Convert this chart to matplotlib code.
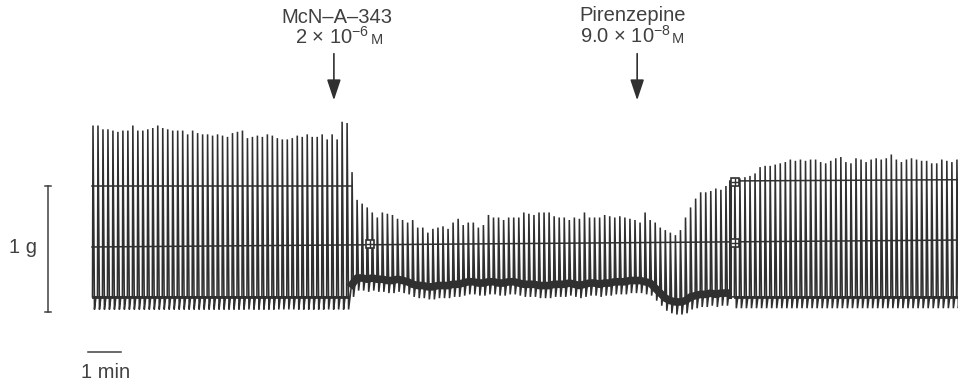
import numpy as np
import matplotlib
matplotlib.use("Agg")
import matplotlib.pyplot as plt

# ---------------- data (tension in g, time in min) ----------------
left_t = (0.03, 7.73)          # first / last contraction of control period
left_peak = [1.48, 1.48, 1.45, 1.45, 1.44, 1.43, 1.44, 1.44, 1.48, 1.44,
             1.44, 1.45, 1.46, 1.48, 1.46, 1.45, 1.44, 1.44, 1.44, 1.41,
             1.44, 1.42, 1.41, 1.41, 1.40, 1.41, 1.40, 1.39, 1.42, 1.43,
             1.44, 1.38, 1.39, 1.40, 1.39, 1.41, 1.40, 1.38, 1.37, 1.37,
             1.38, 1.40, 1.39, 1.41, 1.39, 1.39, 1.41, 1.37, 1.41, 1.37,
             1.51, 1.50]
left_base = 0.12
left_under = 0.10

mid_t = (7.88, 19.21)          # McN-A-343 period
mid_peak = [1.11, 0.89, 0.86, 0.83, 0.79, 0.75, 0.79, 0.78, 0.77, 0.74,
            0.73, 0.71, 0.73, 0.67, 0.67, 0.63,
            0.66, 0.67, 0.68, 0.66, 0.71, 0.74, 0.69, 0.71, 0.71, 0.67,
            0.69, 0.77, 0.75, 0.75, 0.73, 0.75, 0.75, 0.75, 0.79, 0.78,
            0.77, 0.79, 0.79, 0.79, 0.76, 0.75, 0.75, 0.73, 0.75, 0.74,
            0.79, 0.75, 0.75, 0.75, 0.77, 0.76, 0.75, 0.76, 0.75, 0.74,
            0.73, 0.71, 0.79, 0.73, 0.71, 0.67, 0.65, 0.63, 0.61,
            0.65, 0.75, 0.83, 0.90, 0.95, 0.95, 0.96, 0.98, 0.97, 1.00]
mid_base = [0.22, 0.27, 0.27, 0.26, 0.27, 0.26, 0.26, 0.25, 0.25, 0.26, 0.25, 0.24,
            0.22, 0.21, 0.21, 0.20, 0.20, 0.21, 0.21, 0.21, 0.22, 0.22,
            0.23, 0.24, 0.24, 0.23, 0.23, 0.24, 0.24, 0.23, 0.23, 0.24, 0.24, 0.23,
            0.22, 0.22, 0.22, 0.21,
            0.21, 0.21, 0.22, 0.22, 0.22, 0.23, 0.22, 0.21, 0.22, 0.23, 0.23,
            0.22, 0.23, 0.23, 0.24, 0.24, 0.24, 0.25, 0.25, 0.25, 0.24, 0.23,
            0.19, 0.15, 0.11, 0.09, 0.08, 0.08, 0.09,
            0.12, 0.13, 0.14, 0.14, 0.15, 0.14, 0.15, 0.15]
mid_under = 0.10

marker_t = 19.33               # event marker on the trace
marker_top = 1.03

right_t = (19.48, 26.21)       # after pirenzepine
right_peak = [1.06, 1.06, 1.07, 1.08, 1.10, 1.15, 1.16, 1.16, 1.17, 1.18,
              1.19, 1.21, 1.20, 1.21, 1.20, 1.21, 1.21, 1.19, 1.18, 1.20,
              1.22, 1.23, 1.19, 1.18, 1.22, 1.21, 1.19, 1.21, 1.22, 1.21,
              1.22, 1.25, 1.21, 1.19, 1.21, 1.22, 1.21, 1.20, 1.20, 1.18,
              1.18, 1.21, 1.20, 1.19, 1.21]
right_base = 0.12
right_under = 0.09

drugs = ["McN\u2013A\u2013343", "Pirenzepine"]
dose_main = [r"2 $\times$ 10$^{\mathregular{-6}}$", r"9.0 $\times$ 10$^{\mathregular{-8}}$"]
dose_unit = "M"
name_t = [7.42, 16.38]         # label centres
dose_t = [7.48, 16.36]
arrow_t = [7.33, 16.52]        # arrow positions
name_y = [2.29, 2.31]
dose_y = [2.13, 2.135]

grid_low = (0.516, 0.571)      # chart-paper line (start, end) in g
grid_high_left = (0.0, 7.88, 1.0)
grid_high_right = (19.33, 26.24, 1.04, 1.05)
box_marks = [(8.42, 0.54), (19.48, 0.55), (19.48, 1.03)]

# ---------------- figure ----------------
W, H = 958, 381
fig = plt.figure(figsize=(W / 100, H / 100), dpi=100)
ax = fig.add_axes([0, 0, 1, 1])
px_per_min = 33.0
px_per_g = 126.0
x0, y0 = 92.0, 312.0
ax.set_xlim(-x0 / px_per_min, (W - x0) / px_per_min)
ax.set_ylim((y0 - H) / px_per_g, y0 / px_per_g)
ax.axis("off")

plt.rcParams["mathtext.fontset"] = "custom"
plt.rcParams["mathtext.rm"] = "Liberation Sans"
plt.rcParams["mathtext.it"] = "Liberation Sans"

ink = "#303030"
txt = "#404040"
fam = ["Liberation Sans", "DejaVu Sans"]
fs = 14.5


def spike_path(times, peaks, bases, under):
    xs, ys = [], []
    for t, p, b in zip(times, peaks, bases):
        xs += [t - 0.015, t, t + 0.045, t + 0.09]
        ys += [b, p, b - under, b]
    return xs, ys


lt = np.linspace(left_t[0], left_t[1], len(left_peak))
mt = np.linspace(mid_t[0], mid_t[1], len(mid_peak))
rt = np.linspace(right_t[0], right_t[1], len(right_peak))

lx, ly = spike_path(lt, left_peak, [left_base] * len(lt), left_under)
mx, my = spike_path(mt, mid_peak, mid_base, mid_under)
rx, ry = spike_path(rt, right_peak, [right_base] * len(rt), right_under)

xs = lx + mx + [marker_t, marker_t, marker_t] + rx
ys = ly + my + [mid_base[-1], marker_top, right_base] + ry
ax.plot(xs, ys, color=ink, lw=1.15, solid_joinstyle="miter", zorder=3)

# heavy noisy resting band
ax.plot(lt, [left_base] * len(lt), color=ink, lw=2.0, zorder=3)
ax.plot(mt, mid_base, color=ink, lw=5.5, zorder=3)
ax.plot(rt, [right_base] * len(rt), color=ink, lw=2.0, zorder=3)
ax.plot([marker_t, marker_t], [right_base, marker_top], color=ink, lw=2.2, zorder=3)

# chart-paper lines
xl = ax.get_xlim()
ax.plot([0, xl[1]], list(grid_low), color=ink, lw=1.1, zorder=2)
ax.plot(grid_high_left[:2], [grid_high_left[2]] * 2, color=ink, lw=1.1, zorder=2)
ax.plot(grid_high_right[:2], grid_high_right[2:], color=ink, lw=1.1, zorder=2)

for bt, bg in box_marks:
    ax.plot(bt, bg, marker="s", ms=6, mfc="white", mec=ink, mew=1.2, zorder=4)
    ax.plot(bt, bg, marker="+", ms=6, mec=ink, mew=1.0, zorder=5)

# 1 g calibration bar
bx = -1.333
cap = 0.09
ax.plot([bx, bx], [0, 1.0], color=txt, lw=1.1)
ax.plot([bx - cap, bx + cap], [0, 0], color=txt, lw=1.1)
ax.plot([bx - cap, bx + cap], [1.0, 1.0], color=txt, lw=1.1)
ax.text(-2.08, 0.468, "1 g", ha="center", va="baseline", fontsize=fs,
        color=txt, family=fam)

# 1 min bar
ax.plot([-0.12, 0.88], [-0.317, -0.317], color=txt, lw=1.1)
ax.text(0.42, -0.52, "1 min", ha="center", va="baseline", fontsize=fs,
        color=txt, family=fam)

# drug additions
renderer = fig.canvas.get_renderer()
for name, main, tn, td, ta, ny, dy in zip(drugs, dose_main, name_t, dose_t,
                                          arrow_t, name_y, dose_y):
    ax.text(tn, ny, name, ha="center", va="baseline", fontsize=fs,
            color=txt, family=fam)
    t1 = ax.text(td, dy, main, ha="left", va="baseline", fontsize=fs,
                 color=txt, family=fam)
    t2 = ax.text(td, dy, dose_unit, ha="left", va="baseline", fontsize=fs * 0.72,
                 color=txt, family=fam)
    w1 = t1.get_window_extent(renderer).width
    w2 = t2.get_window_extent(renderer).width
    gap = 1.0
    start = td - (w1 + gap + w2) / 2 / px_per_min
    t1.set_x(start)
    t2.set_x(start + (w1 + gap) / px_per_min)
    ax.annotate("", xy=(ta, 1.68), xytext=(ta, 2.05),
                arrowprops=dict(arrowstyle="-|>,head_length=0.9,head_width=0.3",
                                color=ink, lw=1.2, mutation_scale=14,
                                shrinkA=0, shrinkB=0))

fig.savefig("out.png", dpi=100, facecolor="white")
